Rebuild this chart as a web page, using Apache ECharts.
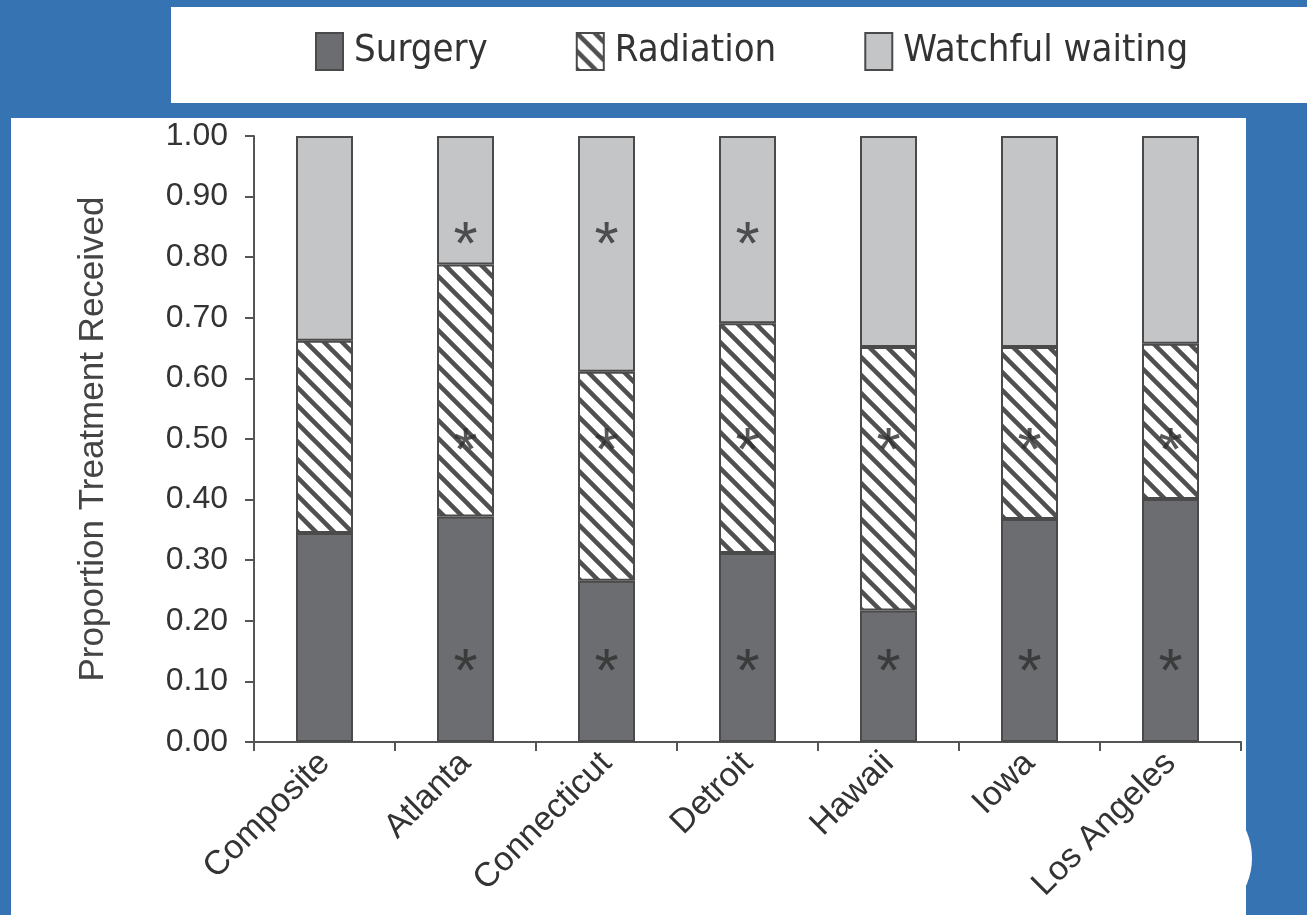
<!DOCTYPE html>
<html>
<head>
<meta charset="utf-8">
<script src="https://cdn.jsdelivr.net/npm/echarts@6/dist/echarts.min.js"></script>
<style>
html,body{margin:0;padding:0;background:#3573b3;}
#chart{width:1307px;height:915px;}
</style>
</head>
<body>
<div id="chart"></div>
<script>
// ---- data ----
const categories = ['Composite', 'Atlanta', 'Connecticut', 'Detroit', 'Hawaii', 'Iowa', 'Los Angeles'];
const surgery   = [0.345, 0.372, 0.266, 0.312, 0.217, 0.368, 0.401];
const radiation = [0.317, 0.416, 0.345, 0.379, 0.435, 0.284, 0.256];
const watchful  = [0.338, 0.212, 0.389, 0.309, 0.348, 0.348, 0.343];
// significance markers (asterisks), '-' = none
const starWatchful  = ['-', 0.84, 0.84, 0.84, '-', '-', '-'];
const starRadiation = ['-', 0.50, 0.50, 0.50, 0.50, 0.50, 0.50];
const starSurgery   = ['-', 0.135, 0.135, 0.135, 0.135, 0.135, 0.135];
const yTicks = [0, 0.1, 0.2, 0.3, 0.4, 0.5, 0.6, 0.7, 0.8, 0.9, 1.0];

// hatch pattern
function hatch() {
  const s = 18;
  const c = document.createElement('canvas');
  c.width = s; c.height = s;
  const g = c.getContext('2d');
  g.fillStyle = '#ffffff';
  g.fillRect(0, 0, s, s);
  g.strokeStyle = '#505050';
  g.lineWidth = 4.5;
  g.lineCap = 'square';
  for (const x of [-s, 0, s]) {
    g.beginPath();
    g.moveTo(x - 4, -4);
    g.lineTo(x + s + 4, s + 4);
    g.stroke();
  }
  return c;
}

const font = "'Liberation Sans', Arial, Helvetica, sans-serif";
const border = { borderColor: '#4a4a4a', borderWidth: 2 };

function starSeries(name, data) {
  return {
    name: name, type: 'scatter', data: data, symbolSize: 1,
    itemStyle: { color: 'rgba(0,0,0,0)' },
    label: { show: true, position: 'inside', formatter: '*', fontSize: 62,
             fontFamily: font, color: '#2e2e2e', offset: [0, 14] },
    silent: true, z: 5
  };
}

const chart = echarts.init(document.getElementById('chart'));
chart.setOption({
  backgroundColor: '#3573b3',
  animation: false,
  graphic: [
    { type: 'rect', z: -10, shape: { x: 171, y: 7, width: 1136, height: 96 }, style: { fill: '#ffffff' } },
    { type: 'rect', z: -10, shape: { x: 11, y: 118, width: 1235, height: 800 }, style: { fill: '#ffffff' } },
    { type: 'circle', z: -10, shape: { cx: 1184, cy: 858, r: 68 }, style: { fill: '#ffffff' } }
  ],
  legend: {
    data: ['Surgery', 'Radiation', 'Watchful waiting'],
    left: 310, top: 27, width: 990,
    itemWidth: 27, itemHeight: 37, itemGap: 88,
    icon: 'rect',
    textStyle: { fontFamily: "'Liberation Sans Narrow', 'DejaVu Sans Condensed', sans-serif",
                 fontSize: 38, color: '#333', padding: [0, 0, 4, 6] }
  },
  grid: { left: 254, right: 66, top: 136, bottom: 173 },
  xAxis: {
    type: 'category', data: categories,
    axisLine: { lineStyle: { color: '#555', width: 2 } },
    axisTick: { show: true, length: 9, lineStyle: { color: '#555', width: 2 } },
    axisLabel: { rotate: 45, fontSize: 34, fontFamily: font, color: '#333', margin: 16 }
  },
  yAxis: {
    type: 'value', min: 0, max: 1, interval: 0.1,
    name: 'Proportion Treatment Received', nameLocation: 'middle', nameGap: 143,
    nameTextStyle: { fontSize: 35, fontFamily: font, color: '#444' },
    axisLine: { show: true, lineStyle: { color: '#555', width: 2 } },
    axisTick: { show: true, length: 9, lineStyle: { color: '#555', width: 2 } },
    splitLine: { show: false },
    axisLabel: { fontSize: 32, fontFamily: font, color: '#333', margin: 26,
                 formatter: v => v.toFixed(2) }
  },
  series: [
    { name: 'Surgery', type: 'bar', stack: 't', data: surgery, barWidth: 57,
      itemStyle: Object.assign({ color: '#6c6d71' }, border) },
    { name: 'Radiation', type: 'bar', stack: 't', data: radiation, barWidth: 57,
      itemStyle: Object.assign({ color: { image: hatch(), repeat: 'repeat' } }, border) },
    { name: 'Watchful waiting', type: 'bar', stack: 't', data: watchful, barWidth: 57,
      itemStyle: Object.assign({ color: '#c4c5c7' }, border) },
    starSeries('s1', starWatchful),
    starSeries('s2', starRadiation),
    starSeries('s3', starSurgery)
  ]
});
</script>
</body>
</html>
